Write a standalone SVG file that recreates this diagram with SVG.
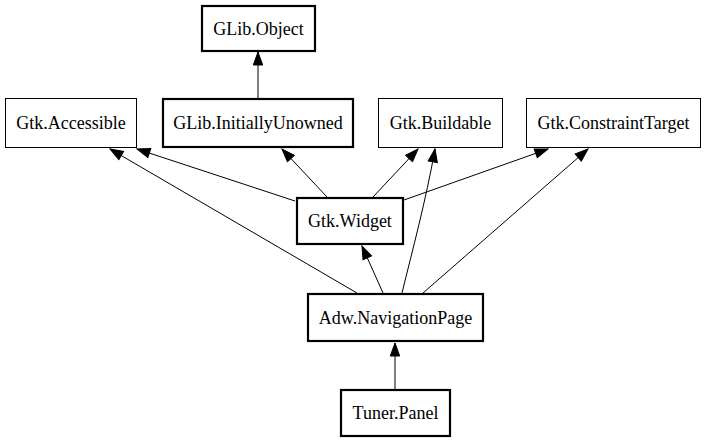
<svg xmlns="http://www.w3.org/2000/svg" width="707" height="443" viewBox="0 0 707 443">
<style>
.box{fill:#fff;stroke:#000;stroke-width:1}
.bold{stroke-width:2.2}
.lbl{font-family:"Liberation Serif","Times New Roman",serif;font-size:18px;fill:#000;text-anchor:middle}
.edge{fill:none;stroke:#000;stroke-width:1;marker-end:url(#arr)}
</style>
<defs>
<marker id="arr" markerUnits="userSpaceOnUse" markerWidth="15" markerHeight="12" refX="13" refY="5" orient="auto" viewBox="-1 -1 15 12">
<path d="M0,0.3 L13,5 L0,9.7 z" fill="#000" stroke="#000" stroke-width="1"/>
</marker>
</defs>
<rect width="707" height="443" fill="#fff"/>
<g id="connectors">
<path class="edge" d="M258,99 L258,52"/>
<path class="edge" d="M295,201 L137,149"/>
<path class="edge" d="M357,293 L110,149"/>
<path class="edge" d="M327,197 L282,149"/>
<path class="edge" d="M373,197 L418,149"/>
<path class="edge" d="M402,293 C412,252 426,200 435,149"/>
<path class="edge" d="M404,200 L548,149"/>
<path class="edge" d="M423,293 L588,149"/>
<path class="edge" d="M383,293 L362,246"/>
<path class="edge" d="M395,389 L395,343"/>
</g>
<g id="GLib.Object"><rect class="box bold" x="202" y="6" width="113" height="45"/><text class="lbl" x="258.5" y="34.5">GLib.Object</text></g>
<g id="Gtk.Accessible"><rect class="box" x="5.5" y="98.5" width="131" height="49"/><text class="lbl" x="71" y="129">Gtk.Accessible</text></g>
<g id="GLib.InitiallyUnowned"><rect class="box bold" x="163" y="99" width="190" height="48"/><text class="lbl" x="258" y="129">GLib.InitiallyUnowned</text></g>
<g id="Gtk.Buildable"><rect class="box" x="378.5" y="98.5" width="124" height="49"/><text class="lbl" x="440.5" y="129">Gtk.Buildable</text></g>
<g id="Gtk.ConstraintTarget"><rect class="box" x="526.5" y="98.5" width="174" height="49"/><text class="lbl" x="613.5" y="129">Gtk.ConstraintTarget</text></g>
<g id="Gtk.Widget"><rect class="box bold" x="297" y="198" width="106" height="46"/><text class="lbl" x="350" y="227">Gtk.Widget</text></g>
<g id="Adw.NavigationPage"><rect class="box bold" x="308" y="294" width="175" height="47"/><text class="lbl" x="395.5" y="323.5">Adw.NavigationPage</text></g>
<g id="Tuner.Panel"><rect class="box bold" x="341" y="390" width="109" height="46"/><text class="lbl" x="395.5" y="419">Tuner.Panel</text></g>
</svg>
